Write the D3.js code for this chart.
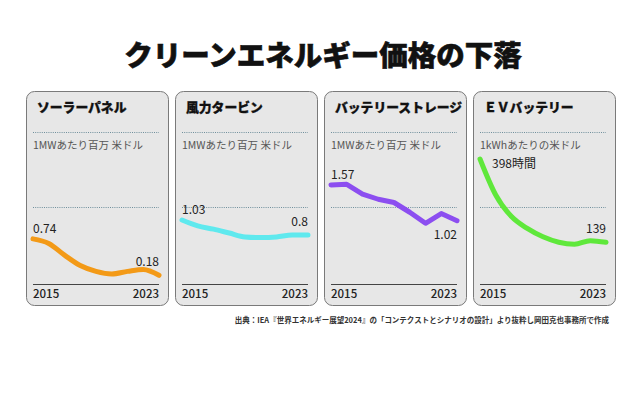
<!DOCTYPE html>
<html>
<head>
<meta charset="utf-8">
<script src="https://cdn.jsdelivr.net/npm/d3@7"></script>
<style>
  body { margin: 0; background: #fff; }
  svg text { font-family: "Noto Sans CJK JP", "Noto Sans", sans-serif; }
</style>
</head>
<body>
<div id="chart"></div>
<script>
// data
var years = [2015, 2016, 2017, 2018, 2019, 2020, 2021, 2022, 2023];
var solar = [0.74, 0.67, 0.49, 0.33, 0.24, 0.20, 0.24, 0.27, 0.18];
var wind = [1.03, 0.94, 0.89, 0.83, 0.77, 0.76, 0.77, 0.80, 0.80];
var storage = [1.57, 1.58, 1.43, 1.35, 1.30, 1.15, 0.98, 1.13, 1.02];
var evBattery = [398, 286, 219, 182, 156, 139, 133, 144, 139];

var panelTitles = ["ソーラーパネル", "風力タービン", "バッテリーストレージ", "ＥＶバッテリー"];
var units = ["1MWあたり百万 米ドル", "1MWあたり百万 米ドル", "1MWあたり百万 米ドル", "1kWhあたりの米ドル"];
var firstLabels = ["0.74", "1.03", "1.57", "398時間"];
var lastLabels = ["0.18", "0.8", "1.02", "139"];
var colors = ["#f39a17", "#5fe9ee", "#8c4ef0", "#5fe83b"];

var width = 640, height = 393;
var svg = d3.select("#chart").append("svg")
    .attr("width", width)
    .attr("height", height);

// main title
svg.append("text")
    .attr("x", 323)
    .attr("y", 66)
    .attr("text-anchor", "middle")
    .style("font-size", "28.5px")
    .style("font-weight", 900)
    .style("fill", "#111")
    .style("stroke", "#111")
    .style("stroke-width", 0.6)
    .text("クリーンエネルギー価格の下落");

var series = [solar, wind, storage, evBattery];
var panelW = 142, panelH = 214, panelTop = 91;
var panelX = d3.scaleLinear().domain([0, 3]).range([26, 473]);

// two y scales: MW panels share one, EV has its own
var yMW = d3.scaleLinear().domain([0, 2]).range([287, 157]);
var yEV = d3.scaleLinear().domain([0, 398]).range([287, 159]);

series.forEach(function(vals, i) {
    var px = panelX(i);
    var g = svg.append("g");
    var x = d3.scaleLinear().domain([2015, 2023]).range([px + 7, px + 133]);
    var y = i == 3 ? yEV : yMW;

    g.append("rect")
        .attr("x", px + 0.5).attr("y", panelTop + 0.5)
        .attr("width", panelW).attr("height", panelH)
        .attr("rx", 8).attr("ry", 8)
        .style("fill", "#e7e7e7")
        .style("stroke", "#7a7a7a")
        .style("stroke-width", 1);

    g.append("text")
        .attr("x", px + 11).attr("y", 112)
        .style("font-size", "12.8px")
        .style("font-weight", 900)
        .style("fill", "#111")
        .style("stroke", "#111")
        .style("stroke-width", 0.3)
        .text(panelTitles[i]);

    // dotted guide lines
    [132, 207].forEach(function(yy) {
        g.append("line")
            .attr("x1", px + 7).attr("x2", px + 133)
            .attr("y1", yy + 0.5).attr("y2", yy + 0.5)
            .style("stroke", "#6f8f9c")
            .style("stroke-width", 1)
            .style("stroke-dasharray", "1,1.2");
    });

    g.append("text")
        .attr("x", px + 7).attr("y", 149)
        .style("font-size", "10.5px")
        .style("fill", "#555")
        .text(units[i]);

    // baseline and years
    g.append("line")
        .attr("x1", px + 7).attr("x2", px + 133)
        .attr("y1", 284.5).attr("y2", 284.5)
        .style("stroke", "#444")
        .style("stroke-width", 1);

    g.append("text")
        .attr("x", x(2015)).attr("y", 298)
        .style("font-size", "11.5px")
        .style("font-weight", 500)
        .style("fill", "#222")
        .text(years[0]);
    g.append("text")
        .attr("x", x(2023)).attr("y", 298)
        .attr("text-anchor", "end")
        .style("font-size", "11.5px")
        .style("font-weight", 500)
        .style("fill", "#222")
        .text(years[years.length - 1]);

    var line = d3.line()
        .x(function(d, j) { return x(years[j]); })
        .y(function(d) { return y(d); })
        .curve(i == 2 ? d3.curveLinear : d3.curveMonotoneX);

    g.append("path")
        .datum(vals)
        .attr("d", line)
        .style("fill", "none")
        .style("stroke", colors[i])
        .style("stroke-width", 5)
        .style("stroke-linejoin", "round")
        .style("stroke-linecap", "round");

    // value labels
    var first = vals[0], last = vals[vals.length - 1];
    if (i == 3) {
        g.append("text")
            .attr("x", x(2015) + 12).attr("y", y(first) + 9)
            .style("font-size", "12px")
            .style("fill", "#222")
            .text(firstLabels[i]);
    } else {
        g.append("text")
            .attr("x", x(2015)).attr("y", y(first) - 6)
            .style("font-size", "12px")
            .style("fill", "#222")
            .text(firstLabels[i]);
    }
    var lastY = i == 2 ? y(last) + 18 : y(last) - 9;
    g.append("text")
        .attr("x", x(2023)).attr("y", lastY)
        .attr("text-anchor", "end")
        .style("font-size", "12px")
        .style("fill", "#222")
        .text(lastLabels[i]);
});

// source note
svg.append("text")
    .attr("x", 609).attr("y", 323)
    .attr("text-anchor", "end")
    .style("font-size", "7.5px")
    .style("font-weight", 700)
    .style("fill", "#333")
    .text("出典：IEA『世界エネルギー展望2024』の「コンテクストとシナリオの設計」より抜粋し岡田克也事務所で作成");
</script>
</body>
</html>
